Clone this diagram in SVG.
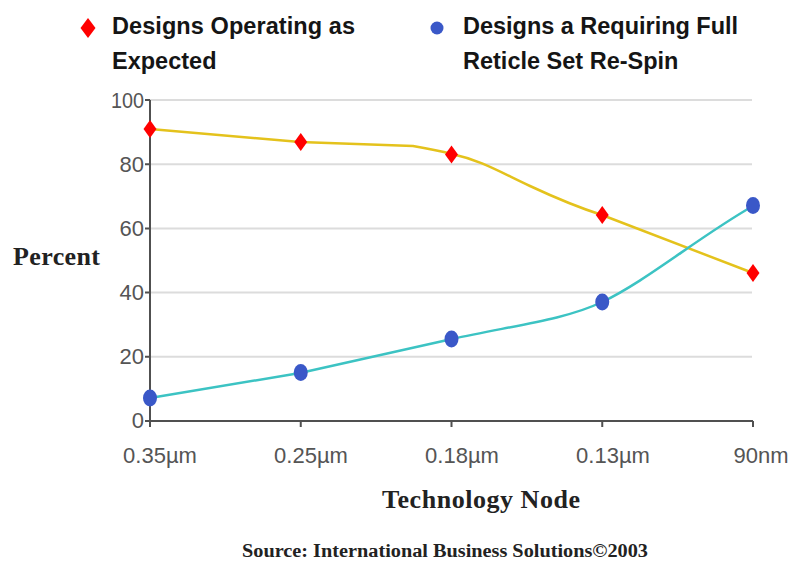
<svg xmlns="http://www.w3.org/2000/svg" width="793" height="562" viewBox="0 0 793 562">
<style>
.leg{font-family:"Liberation Sans",Arial,sans-serif;font-weight:bold;font-size:23.5px;fill:#151515}
.tick{font-family:"Liberation Sans",Arial,sans-serif;font-size:22px;fill:#555}
.ttl{font-family:"Liberation Serif","Times New Roman",serif;font-weight:bold;fill:#222}
.grid{stroke:#dcdcdc;stroke-width:2}
.axis{stroke:#505050;stroke-width:2;fill:none}
.dia{fill:#ff0000}
.dot{fill:#3a58c8}
</style>
<defs>
<path id="d" d="M0,-9 L6.5,0 L0,9 L-6.5,0 Z" class="dia"/>
<ellipse id="c" rx="7" ry="8.5" class="dot"/>
</defs>
<rect width="793" height="562" fill="#ffffff"/>
<g id="legend">
<path d="M88,18 L95.5,28 L88,38 L80.5,28 Z" class="dia"/>
<text class="leg" x="112" y="34" textLength="243" lengthAdjust="spacing">Designs Operating as</text>
<text class="leg" x="112" y="69">Expected</text>
<circle cx="437" cy="28" r="6.5" class="dot"/>
<text class="leg" x="463" y="34" textLength="275" lengthAdjust="spacing">Designs a Requiring Full</text>
<text class="leg" x="463" y="69">Reticle Set Re-Spin</text>
</g>
<g id="grid">
<line class="grid" x1="150" y1="100" x2="752" y2="100"/>
<line class="grid" x1="150" y1="164.2" x2="752" y2="164.2"/>
<line class="grid" x1="150" y1="228.4" x2="752" y2="228.4"/>
<line class="grid" x1="150" y1="292.6" x2="752" y2="292.6"/>
<line class="grid" x1="150" y1="356.8" x2="752" y2="356.8"/>
</g>
<g id="axes">
<path class="axis" d="M150,100 V421 H753"/>
<path class="axis" d="M145,100 H150 M145,164.2 H150 M145,228.4 H150 M145,292.6 H150 M145,356.8 H150 M145,421 H150"/>
<path class="axis" d="M150,421 V427 M300.75,421 V427 M451.5,421 V427 M602.25,421 V427 M753,421 V427"/>
</g>
<g id="ylabels" class="tick" text-anchor="end">
<text x="144" y="108" textLength="33" lengthAdjust="spacingAndGlyphs">100</text>
<text x="144" y="172">80</text>
<text x="144" y="236">60</text>
<text x="144" y="300">40</text>
<text x="144" y="364">20</text>
<text x="144" y="428">0</text>
</g>
<g id="xlabels" class="tick" text-anchor="middle">
<text x="160" y="463">0.35µm</text>
<text x="311" y="463">0.25µm</text>
<text x="462" y="463">0.18µm</text>
<text x="613" y="463">0.13µm</text>
<text x="761" y="463">90nm</text>
</g>
<g id="connectors" fill="none" stroke-width="2.5" stroke-linejoin="round">
<path stroke="#e4c21c" d="M150,129 L300,142 L413,146 C430,149 440,151 452,154 C480,160 500,172 530,186 C560,200 580,208 602,215 L753,273"/>
<path stroke="#3cc3c3" d="M150,398 L300,373 C350,362 400,351 452,339 C510,326 565,320 602,302 C645,282 700,236 753,206"/>
</g>
<g id="series1">
<use href="#d" x="150" y="129"/>
<use href="#d" x="300.75" y="142"/>
<use href="#d" x="451.5" y="154.5"/>
<use href="#d" x="602.25" y="215"/>
<use href="#d" x="753" y="273"/>
</g>
<g id="series2">
<use href="#c" x="150" y="398"/>
<use href="#c" x="300.75" y="372.5"/>
<use href="#c" x="451.5" y="339"/>
<use href="#c" x="602.25" y="302"/>
<use href="#c" x="753" y="205.5"/>
</g>
<g id="titles">
<text class="ttl" x="13" y="265" font-size="26" textLength="87" lengthAdjust="spacing">Percent</text>
<text class="ttl" x="382" y="508" font-size="26" textLength="198" lengthAdjust="spacing">Technology Node</text>
<text class="ttl" x="242" y="557" font-size="18.5" textLength="406" lengthAdjust="spacingAndGlyphs">Source: International Business Solutions©2003</text>
</g>
</svg>
